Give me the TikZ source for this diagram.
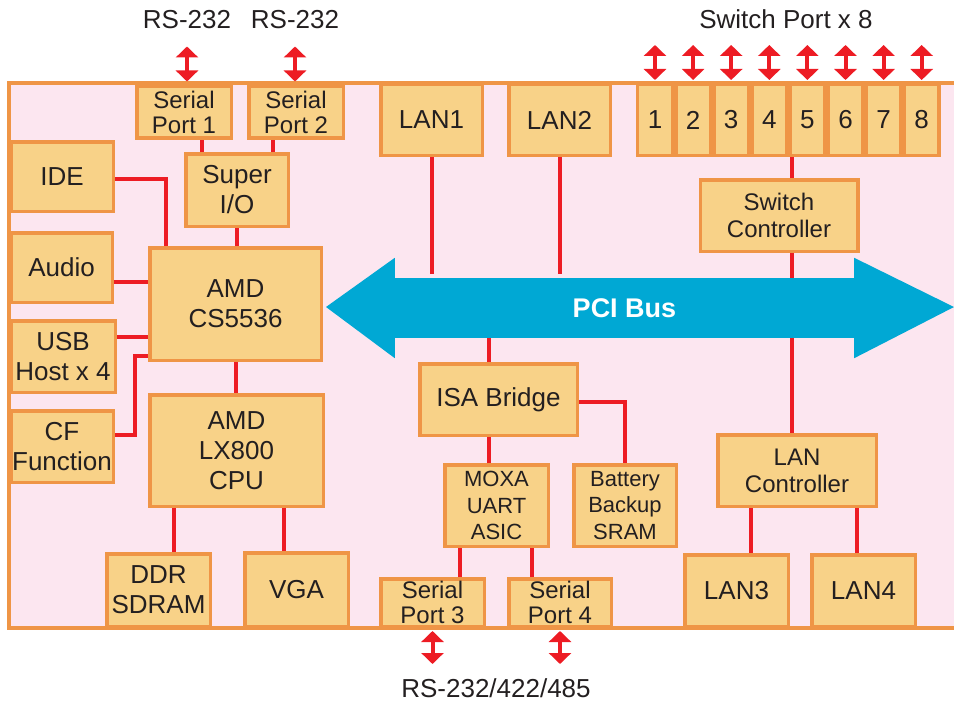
\documentclass[tikz,border=0pt]{standalone}
\usepackage{fontspec}
\setmainfont{Liberation Sans}
\usetikzlibrary{arrows.meta,positioning}

\definecolor{board}{RGB}{252,230,240}
\definecolor{edge}{RGB}{239,149,70}
\definecolor{chip}{RGB}{248,210,136}
\definecolor{wire}{RGB}{237,28,36}
\definecolor{busblue}{RGB}{0,168,212}
\definecolor{ink}{RGB}{35,31,32}

\begin{document}
\begin{tikzpicture}[
  x=1pt, y=-1pt,
  font=\fontsize{26}{30}\selectfont,
  every node/.style={align=center, text=ink},
  blk/.style={draw=edge, fill=chip, line width=3.5pt, inner sep=0pt},
  serial/.style={blk, font=\fontsize{24}{25}\selectfont},
  ctrl/.style={blk, font=\fontsize{24}{27}\selectfont},
  small/.style={blk, font=\fontsize{22}{26.5}\selectfont},
  port/.style={blk, minimum width=34.6pt, minimum height=70.5pt},
  link/.style={draw=wire, line width=4pt},
  io/.style={draw=wire, line width=4pt,
    {Triangle[width=22pt,length=11pt]}-{Triangle[width=22pt,length=11pt]},
    shorten >=3pt},
]
  \useasboundingbox (0,0) rectangle (954,701);
  \draw[draw=edge, fill=board, line width=4pt] (9,83) rectangle (980,628);

  % PCI bus
  \node[fill=busblue, minimum width=461pt, minimum height=60pt, inner sep=0pt,
        text=white, font=\bfseries\fontsize{27}{27}\selectfont] (bus) at (624.5,308) {PCI Bus};
  \coordinate (tipL) at (326,307);
  \coordinate (tipR) at (954,307);
  \fill[busblue] ([xshift=1pt,yshift=20pt]bus.north west) -- (tipL)
                 -- ([xshift=1pt,yshift=-20pt]bus.south west) -- cycle;
  \fill[busblue] ([xshift=-1pt,yshift=20pt]bus.north east) -- (tipR)
                 -- ([xshift=-1pt,yshift=-20pt]bus.south east) -- cycle;

  % south bridge side
  \node[serial, minimum width=94.5pt, minimum height=51.5pt] (sp1) at (184,112) {Serial\\Port 1};
  \node[serial, minimum width=94.5pt, minimum height=51.5pt] (sp2) at (296,112) {Serial\\Port 2};
  \node[blk, minimum width=102.5pt, minimum height=72.5pt] (sio) at (237,190) {Super\\I/O};
  \node[blk, minimum width=102.5pt, minimum height=69.5pt] (ide) at (62,176.5) {IDE};
  \node[blk, minimum width=101.5pt, minimum height=69.5pt] (audio) at (61.5,267.5) {Audio};
  \node[blk, minimum width=104.5pt, minimum height=71.5pt] (usb) at (63,356.5) {USB\\Host x 4};
  \node[blk, minimum width=102.5pt, minimum height=71.5pt] (cf) at (62,446.5) {CF\\Function};
  \node[blk, minimum width=171.5pt, minimum height=112.5pt] (cs) at (235.5,304) {AMD\\CS5536};
  \node[blk, minimum width=173.5pt, minimum height=111.5pt] (cpu) at (236.5,450.5) {AMD\\LX800\\CPU};
  \node[blk, minimum width=103.5pt, minimum height=72.5pt] (ddr) at (158.5,590) {DDR\\SDRAM};
  \node[blk, minimum width=103.5pt, minimum height=73.5pt] (vga) at (296.5,589.5) {VGA};

  % network side
  \node[blk, minimum width=101.5pt, minimum height=70.5pt] (lan1) at (431.5,120) {LAN1};
  \node[blk, minimum width=101.5pt, minimum height=70.5pt] (lan2) at (559.5,120) {LAN2};
  \node[port] (p1) at (655,120) {1};
  \foreach \i [remember=\i as \j (initially 1)] in {2,...,8}
    \node[port, right=0pt of p\j] (p\i) {\i};
  \node[ctrl, minimum width=157.5pt, minimum height=71.5pt] (swc) at (779,215.5) {Switch\\Controller};
  \node[ctrl, minimum width=158.5pt, minimum height=71.5pt] (lanc) at (797,470.5) {LAN\\Controller};
  \node[blk, minimum width=103.5pt, minimum height=71.5pt] (lan3) at (736.5,590.5) {LAN3};
  \node[blk, minimum width=103.5pt, minimum height=71.5pt] (lan4) at (863.5,590.5) {LAN4};

  % ISA side
  \node[blk, minimum width=157.5pt, minimum height=71.5pt] (isa) at (498.5,399.5) {ISA Bridge};
  \node[small, minimum width=103.5pt, minimum height=81.5pt] (moxa) at (496.5,505.5) {MOXA\\UART\\ASIC};
  \node[small, minimum width=102.5pt, minimum height=81.5pt] (bat) at (625,505.5) {Battery\\Backup\\SRAM};
  \node[serial, minimum width=103.5pt, minimum height=47.5pt] (sp3) at (432.5,602.5) {Serial\\Port 3};
  \node[serial, minimum width=102.5pt, minimum height=47.5pt] (sp4) at (560,602.5) {Serial\\Port 4};

  % outside labels
  \node[anchor=base] (rs1) at (187,29) {RS-232};
  \node[anchor=base] (rs2) at (295,29) {RS-232};
  \node[anchor=base] (swl) at (786,29) {Switch Port x 8};
  \node[anchor=base] (rs3) at (496,697) {RS-232/422/485};

  % taps
  \coordinate (k1) at ([xshift=18pt]sio.north west);
  \coordinate (k2) at ([xshift=-17pt]sio.north east);
  \coordinate (k3) at ([xshift=18pt]cs.north west);
  \coordinate (k4) at ([yshift=-14pt]audio.east);
  \coordinate (k5) at ([xshift=13pt]swc.north);
  \coordinate (k6) at ([xshift=13pt]swc.south);
  \coordinate (k7) at ([xshift=-5pt]lanc.north);
  \coordinate (k8) at ([xshift=-10pt]isa.north);
  \coordinate (k9) at ([xshift=-8pt]moxa.north);
  \coordinate (k10) at ([xshift=27pt]sp3.north);
  \coordinate (k11) at ([xshift=-28pt]sp4.north);
  \coordinate (k12) at ([xshift=14pt]lan3.north);
  \coordinate (k13) at ([xshift=-7pt]lan4.north);
  \coordinate (k14) at ([xshift=15pt]ddr.north);
  \coordinate (k15) at ([xshift=-13pt]vga.north);
  \coordinate (k16) at ([yshift=20pt]usb.east);

  \draw[link] (k1) -- (k1 |- sp1.south);
  \draw[link] (k2) -- (k2 |- sp2.south);
  \draw[link] (sio) -- (sio |- cs.north);
  \draw[link] ([yshift=-2pt]ide.east) -| (k3);
  \draw[link] (k4) -- (k4 -| cs.west);
  \draw[link] (k16) -- (k16 -| cs.west);
  \draw[link] ([yshift=12pt]cf.east) -- ++(20,0) |- ([yshift=6pt]cs.south west);
  \draw[link] (cs) -- (cs |- cpu.north);
  \draw[link] (k14) -- (k14 |- cpu.south);
  \draw[link] (k15) -- (k15 |- cpu.south);

  \draw[link, shorten >=4pt] (lan1) -- (lan1 |- bus.north);
  \draw[link, shorten >=4pt] (lan2) -- (lan2 |- bus.north);
  \draw[link] (k5) -- (k5 |- p5.south);
  \draw[link] (k6) -- (k6 |- bus.north);
  \draw[link] (k7) -- (k7 |- bus.south);
  \draw[link] (k12) -- (k12 |- lanc.south);
  \draw[link] (k13) -- (k13 |- lanc.south);

  \draw[link] (k8) -- (k8 |- bus.south);
  \draw[link] (k9) -- (k9 |- isa.south);
  \draw[link] ([yshift=-2pt]isa.east) -| (bat.north);
  \draw[link] (k10) -- (k10 |- moxa.south);
  \draw[link] (k11) -- (k11 |- moxa.south);

  % external ports
  \coordinate (a1) at ([xshift=3pt,yshift=38pt]sp1.north);
  \coordinate (a2) at ([xshift=-1pt,yshift=38pt]sp2.north);
  \draw[io] (a1) -- (a1 |- sp1.north);
  \draw[io] (a2) -- (a2 |- sp2.north);
  \foreach \i in {1,...,8} {
    \coordinate (t\i) at ([yshift=38pt]p\i.north);
    \draw[io] (t\i) -- (p\i.north);
  }
  \coordinate (b3) at ([yshift=-36pt]sp3.south);
  \coordinate (b4) at ([yshift=-36pt]sp4.south);
  \draw[io] (b3) -- (sp3.south);
  \draw[io] (b4) -- (sp4.south);
\end{tikzpicture}
\end{document}
